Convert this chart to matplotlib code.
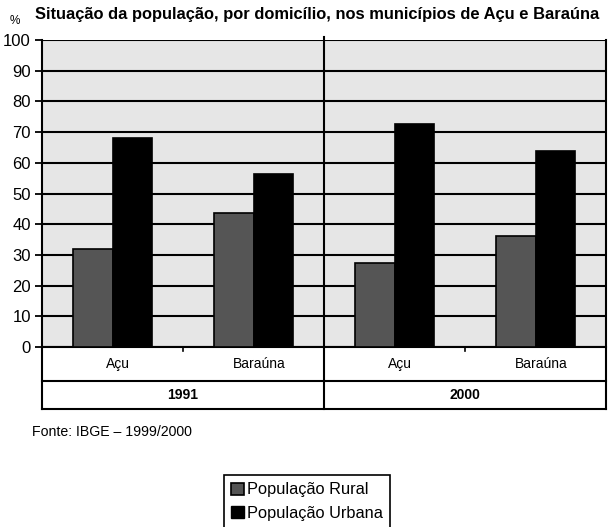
import numpy as np
import matplotlib
matplotlib.use("Agg")
import matplotlib.pyplot as plt
import matplotlib.patches as mpatches
from matplotlib.transforms import blended_transform_factory

plt.rcParams["font.family"] = ["Liberation Sans", "DejaVu Sans"]

# dados
anos       = ["1991", "2000"]
municipios = ["Açu", "Baraúna", "Açu", "Baraúna"]
rural      = [32.0, 43.5, 27.5, 36.0]
urbana     = [68.0, 56.5, 72.5, 64.0]
yticks     = list(range(0, 101, 10))

W, H = 608, 527
fig = plt.figure(figsize=(W / 100, H / 100), dpi=100)
fig.patch.set_facecolor("white")

# área do gráfico em pixels
x0, x1 = 42, 606
y_top, y_zero = 40, 347
ax = fig.add_axes([x0 / W, 1 - y_zero / H, (x1 - x0) / W, (y_zero - y_top) / H])
ax.set_facecolor("#e6e6e6")

x = np.arange(len(municipios))
bw = 0.28
ax.bar(x - bw / 2, rural, bw, color="#555555", edgecolor="black", linewidth=1.2, zorder=3,
       label="População Rural")
ax.bar(x + bw / 2, urbana, bw, color="black", edgecolor="black", linewidth=1.2, zorder=3,
       label="População Urbana")

ax.set_xlim(-0.5, len(municipios) - 0.5)
ax.set_ylim(0, 100)
ax.set_yticks(yticks)
ax.set_yticklabels([str(v) for v in yticks], fontsize=12)
ax.yaxis.grid(True, color="black", linewidth=1.5, zorder=1)
ax.set_axisbelow(True)
ax.tick_params(axis="y", length=5, width=1.3, pad=3)
ax.set_xticks([])
for s in ["top", "right", "bottom"]:
    ax.spines[s].set_visible(False)
ax.spines["left"].set_linewidth(1.5)

# divisória entre anos
trans = blended_transform_factory(ax.transData, ax.transAxes)
row1 = -(381 - y_zero) / (y_zero - y_top)
row2 = -(409 - y_zero) / (y_zero - y_top)
ax.plot([1.5, 1.5], [1.01, row2], color="black", lw=1.5, transform=trans, clip_on=False, zorder=4)
ax.plot([3.5, 3.5], [1.0, row2], color="black", lw=1.5, transform=trans, clip_on=False, zorder=4)
ax.plot([-0.5, -0.5], [0, row2], color="black", lw=1.5, transform=trans, clip_on=False, zorder=4)

# tabela de categorias abaixo do eixo
for yy in [0, row1, row2]:
    ax.plot([-0.5, 3.5], [yy, yy], color="black", lw=1.5, transform=trans, clip_on=False)
for xt in [0.5, 2.5]:
    ax.plot([xt, xt], [0, -0.012], color="black", lw=1.2, transform=trans, clip_on=False)

for i, m in enumerate(municipios):
    ax.text(i + 0.04, row1 / 2, m, ha="center", va="center", fontsize=10, transform=trans)
for j, a in enumerate(anos):
    ax.text(0.5 + 2 * j, (row1 + row2) / 2, a, ha="center", va="center", fontsize=10,
            fontweight="bold", transform=trans)

# títulos
fig.text(10 / W, 1 - 21 / H, "%", fontsize=8.5, va="center", ha="left")
fig.text(35 / W, 1 - 14 / H, "Situação da população, por domicílio, nos municípios de Açu e Baraúna",
         fontsize=11.9, fontweight="bold", va="center", ha="left")
fig.text(32 / W, 1 - 432 / H, "Fonte: IBGE – 1999/2000", fontsize=10.2, va="center", ha="left")

handles = [mpatches.Patch(facecolor="#555555", edgecolor="black", linewidth=1.2, label="População Rural"),
           mpatches.Patch(facecolor="black", edgecolor="black", label="População Urbana")]
leg = fig.legend(handles=handles, loc="upper left", bbox_to_anchor=(224 / W, 1 - 475 / H),
                 fontsize=11.8, frameon=True, fancybox=False, edgecolor="black", framealpha=1,
                 handlelength=0.8, handleheight=0.75, handletextpad=0.15, borderpad=0.45,
                 labelspacing=0.52, borderaxespad=0)
leg.get_frame().set_linewidth(1.2)

fig.savefig("out.png", dpi=100)
